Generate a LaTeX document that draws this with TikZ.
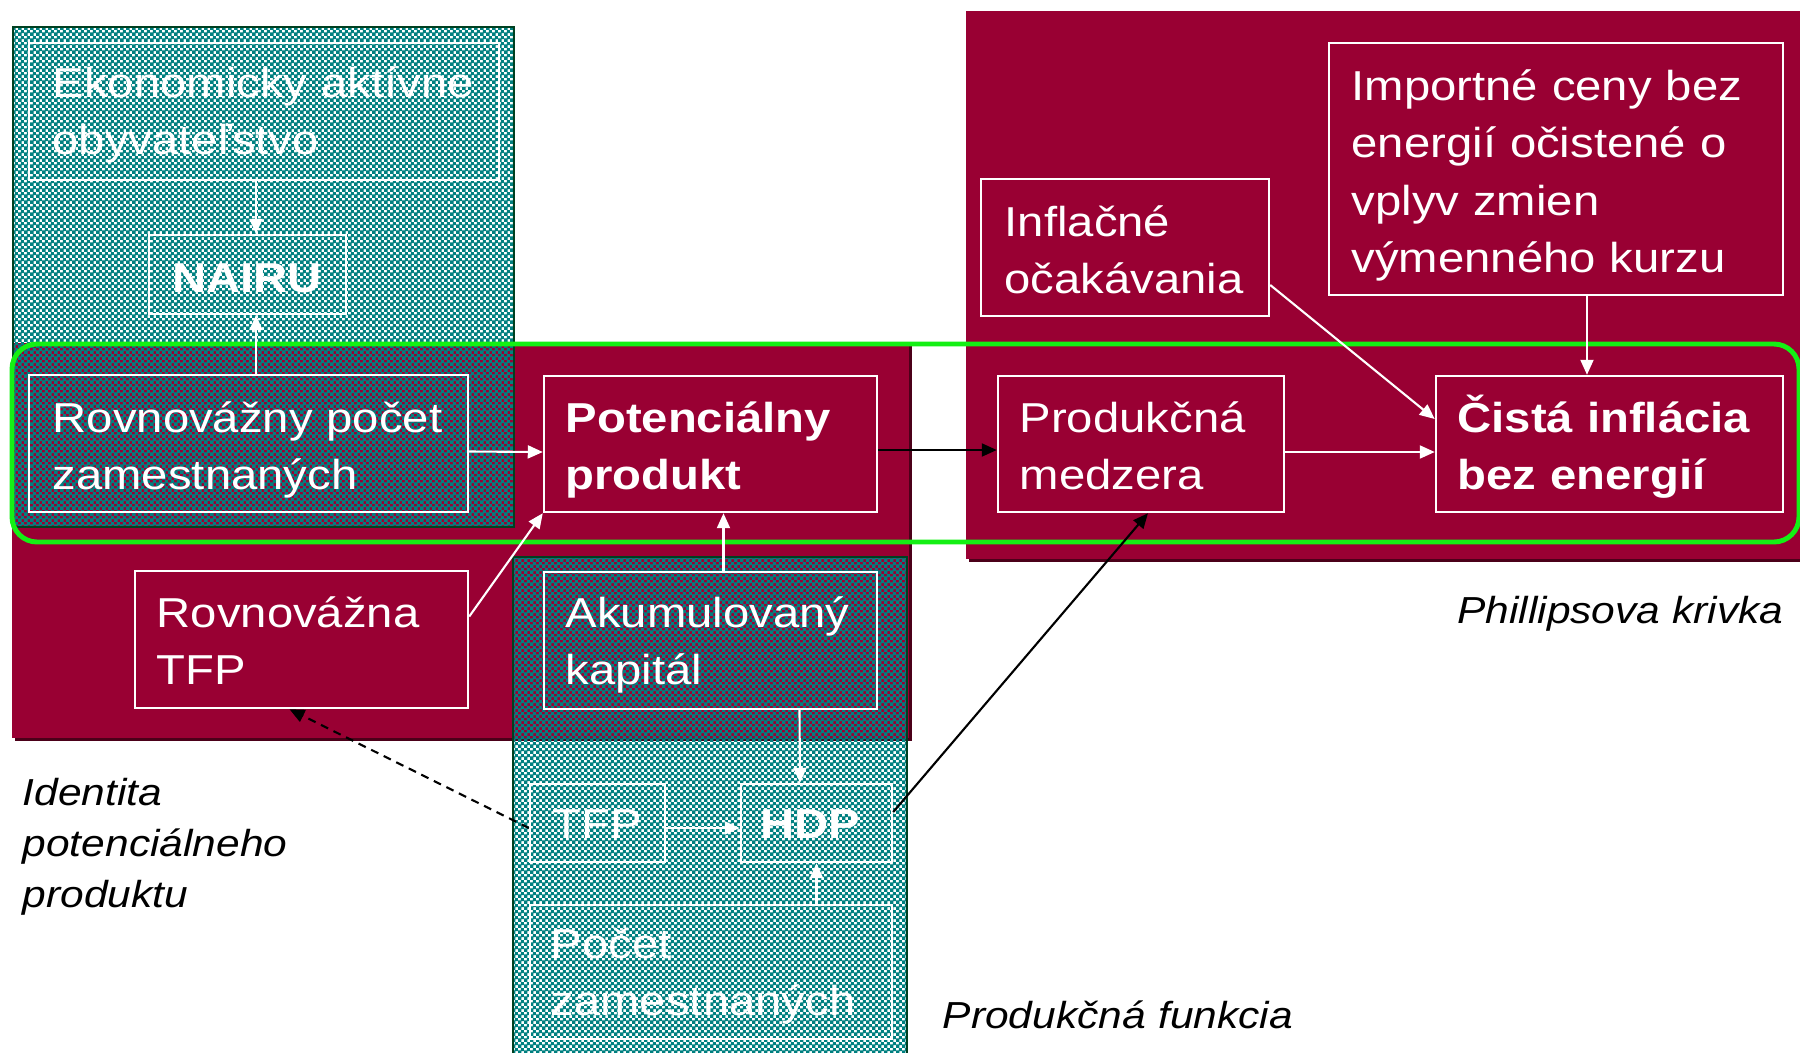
\documentclass[tikz,border=0pt]{standalone}
\usepackage{fontspec}
\setmainfont{Liberation Sans}[FakeStretch=1.13]
\usetikzlibrary{arrows.meta,patterns}

\definecolor{panelred}{RGB}{153,0,51}
\definecolor{shadowred}{RGB}{75,0,25}
\definecolor{panelteal}{RGB}{0,128,128}
\definecolor{tealedge}{RGB}{0,64,32}
\definecolor{loopgreen}{RGB}{20,240,20}

% teal checker, the other cells stay see-through
\pgfdeclarepatternformonly{checker}{\pgfpointorigin}{\pgfqpoint{1.8pt}{1.8pt}}{\pgfqpoint{1.8pt}{1.8pt}}{%
  \pgfpathrectangle{\pgfpointorigin}{\pgfqpoint{1.1pt}{1.1pt}}%
  \pgfpathrectangle{\pgfqpoint{0.9pt}{0.9pt}}{\pgfqpoint{1.1pt}{1.1pt}}%
  \pgfusepath{fill}}

\newcommand{\boxfont}{\fontsize{11.9}{16.4}\selectfont}
\newcommand{\notefont}{\fontsize{10.7}{14.6}\selectfont\itshape}

\tikzset{
  box/.style={draw=white, line width=0.7pt, inner sep=0pt},
  boxtext/.style={anchor=base west, inner sep=0pt, text=white, font=\boxfont, text width=6cm, align=left},
  note/.style={anchor=base west, inner sep=0pt, font=\notefont, text width=5cm, align=left},
}

\begin{document}
\begin{tikzpicture}[x=1cm, y=-1cm, >={Triangle[length=0.15cm,width=0.13cm]}]
\useasboundingbox (0,0) rectangle (18,10.53);

% panels
\fill[shadowred] (0.15,3.46) rectangle (9.12,7.41);
\fill[panelred] (0.12,3.43) rectangle (9.09,7.38);
\fill[shadowred] (9.69,0.14) rectangle (18.3,5.62);
\fill[panelred] (9.66,0.11) rectangle (18.3,5.59);
\path[pattern=checker, pattern color=panelteal] (0.13,0.27) rectangle (5.14,5.27);
\draw[tealedge, line width=0.4pt] (0.13,0.27) rectangle (5.14,5.27);
\path[pattern=checker, pattern color=panelteal] (5.13,5.57) rectangle (9.07,10.7);
\draw[tealedge, line width=0.4pt] (5.13,5.57) rectangle (9.07,10.7);
\draw[loopgreen, line width=1.4pt, rounded corners=0.25cm] (0.12,3.44) rectangle (17.99,5.42);

% boxes
\begin{scope}[every node/.style={box}]
  \node[minimum width=4.70cm, minimum height=1.37cm] (eko) at (2.64,1.115) {};
  \node[minimum width=1.97cm, minimum height=0.79cm] (nairu) at (2.475,2.745) {};
  \node[minimum width=4.39cm, minimum height=1.37cm] (rpz) at (2.485,4.435) {};
  \node[minimum width=3.33cm, minimum height=1.36cm] (pot) at (7.105,4.44) {};
  \node[minimum width=3.33cm, minimum height=1.37cm] (rtfp) at (3.015,6.395) {};
  \node[minimum width=3.33cm, minimum height=1.37cm] (akk) at (7.105,6.405) {};
  \node[minimum width=1.35cm, minimum height=0.78cm] (tfp) at (5.975,8.23) {};
  \node[minimum width=1.51cm, minimum height=0.78cm] (hdp) at (8.165,8.23) {};
  \node[minimum width=3.62cm, minimum height=1.34cm] (poc) at (7.11,9.72) {};
  \node[minimum width=2.88cm, minimum height=1.37cm] (inf) at (11.25,2.475) {};
  \node[minimum width=4.54cm, minimum height=2.52cm] (imp) at (15.56,1.69) {};
  \node[minimum width=2.86cm, minimum height=1.36cm] (pm) at (11.41,4.44) {};
  \node[minimum width=3.47cm, minimum height=1.36cm] (cis) at (16.095,4.44) {};
\end{scope}

% texts in the boxes
\node[boxtext] (eko-t) at (0.52,0.97) {Ekonomicky aktívne\\obyvateľstvo};
\node[boxtext, anchor=base, text width=, font=\boxfont\bfseries] (nairu-t) at (2.47,2.92) {NAIRU};
\node[boxtext] (rpz-t) at (0.52,4.32) {Rovnovážny počet\\zamestnaných};
\node[boxtext, font=\boxfont\bfseries] (pot-t) at (5.65,4.32) {Potenciálny\\produkt};
\node[boxtext] (rtfp-t) at (1.56,6.27) {Rovnovážna\\TFP};
\node[boxtext] (akk-t) at (5.65,6.27) {Akumulovaný\\kapitál};
\node[boxtext] (tfp-t) at (5.52,8.38) {TFP};
\node[boxtext, anchor=base, text width=, font=\boxfont\bfseries] (hdp-t) at (8.10,8.38) {HDP};
\node[boxtext] (poc-t) at (5.50,9.58) {Počet\\zamestnaných};
\node[boxtext] (inf-t) at (10.04,2.36) {Inflačné\\očakávania};
\node[boxtext] (imp-t) at (13.51,1.00) {Importné ceny bez\\energií očistené o\\vplyv zmien\\výmenného kurzu};
\node[boxtext] (pm-t) at (10.19,4.32) {Produkčná\\medzera};
\node[boxtext, font=\boxfont\bfseries] (cis-t) at (14.57,4.32) {Čistá inflácia\\bez energií};

% captions
\node[note] (idt) at (0.22,8.05) {Identita\\potenciálneho\\produktu};
\node[note, anchor=base east, text width=] (phk) at (17.84,6.23) {Phillipsova krivka};
\node[note] (prf) at (9.42,10.28) {Produkčná funkcia};

% white links
\begin{scope}[every edge/.style={draw=white, line width=0.6pt}]
  \path[->] ([xshift=0.085cm]nairu.north |- eko.south) edge ([xshift=0.085cm]nairu.north);
  \path[->] ([xshift=0.085cm]nairu.south |- rpz.north) edge ([xshift=0.085cm]nairu.south);
  \path[->] ([yshift=-0.08cm]rpz.east) edge ([yshift=-0.08cm]pot.west);
  \path[->] ([yshift=0.23cm]rtfp.east) edge (pot.south west);
  \path[->] ([xshift=0.13cm]akk.north) edge ([xshift=0.13cm]pot.south);
  \path[->] ([xshift=0.89cm]akk.south) edge ([xshift=-0.165cm]hdp.north);
  \path[->] ([yshift=-0.05cm]tfp.east) edge ([yshift=-0.05cm]hdp.west);
  \path[->] (hdp.south |- poc.north) edge (hdp.south);
  \path[->] ([xshift=-0.225cm]cis.north |- imp.south) edge ([xshift=-0.225cm]cis.north);
  \path[->] ([yshift=-0.375cm]inf.east) edge ([yshift=0.25cm]cis.west);
  \path[->] ([yshift=-0.08cm]pm.east) edge ([yshift=-0.08cm]cis.west);
\end{scope}

% black links
\begin{scope}[every edge/.style={draw=black, line width=0.6pt}]
  \path[->] ([yshift=-0.06cm]pot.east) edge ([yshift=-0.06cm]pm.west);
  \path[->] ([yshift=0.11cm]hdp.east) edge ([xshift=0.07cm]pm.south);
  \path[->] ([yshift=-0.05cm]tfp.west) edge[dash pattern=on 0.08cm off 0.06cm] ([xshift=-0.12cm]rtfp.south);
\end{scope}
\end{tikzpicture}
\end{document}
